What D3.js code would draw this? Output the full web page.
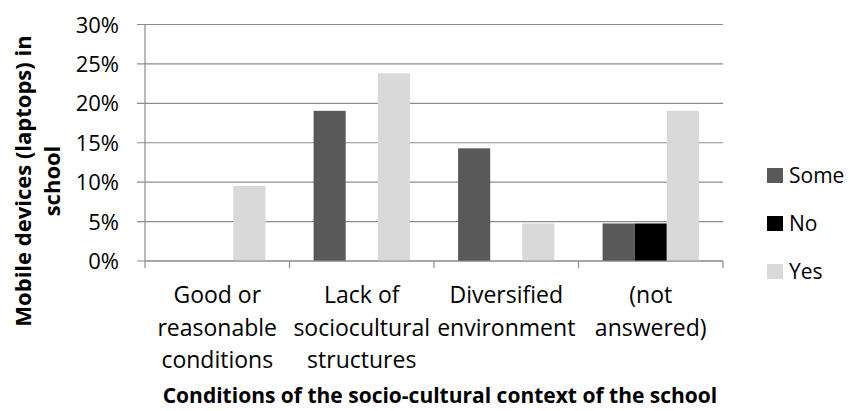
<!DOCTYPE html>
<html>
<head>
<meta charset="utf-8">
<script src="https://cdn.jsdelivr.net/npm/d3@7"></script>
<style>
  body { margin: 0; background: #fff; }
  svg text { font-family: "Open Sans", sans-serif; fill: #000; }
</style>
</head>
<body>
<svg></svg>
<script>
// Chart data (values in %).
var categories = [
  ["Good or", "reasonable", "conditions"],
  ["Lack of", "sociocultural", "structures"],
  ["Diversified", "environment"],
  ["(not", "answered)"]
];
var seriesNames = ["Some", "No", "Yes"];
var someValues = [0, 19.05, 14.29, 4.76];
var noValues = [0, 0, 0, 4.76];
var yesValues = [9.52, 23.81, 4.76, 19.05];
var yTicks = [0, 5, 10, 15, 20, 25, 30];
var yTitle = ["Mobile devices (laptops) in", "school"];
var xTitle = "Conditions of the socio-cultural context of the school";

var colors = ["#595959", "#000000", "#d9d9d9"];
var seriesValues = [someValues, noValues, yesValues];

var svg = d3.select("svg")
  .attr("width", 852)
  .attr("height", 411);

// plot area edges
var plotLeft = 145, plotRight = 723, plotTop = 24.5, plotBottom = 261;
var gridColor = "#8c8c8c";

// Scales.
var x0 = d3.scaleBand()
  .domain(d3.range(categories.length))
  .range([plotLeft, plotRight])
  .paddingInner(1 / 3)
  .paddingOuter(1 / 6);
var x1 = d3.scaleBand()
  .domain(seriesNames)
  .range([0, x0.bandwidth()]);
var y = d3.scaleLinear()
  .domain([0, 30])
  .range([plotBottom, plotTop]);
var edge = d3.scaleLinear()
  .domain([0, categories.length])
  .range([plotLeft, plotRight]);

// Gridlines and y axis labels.
svg.append("g").selectAll("line")
  .data(yTicks)
  .enter()
  .append("line")
  .attr("x1", plotLeft - 8)
  .attr("x2", plotRight)
  .attr("y1", function (d) { return y(d); })
  .attr("y2", function (d) { return y(d); })
  .style("stroke", gridColor)
  .style("stroke-width", 1.2);

svg.append("g").selectAll("text")
  .data(yTicks)
  .enter()
  .append("text")
  .attr("x", 119)
  .attr("y", function (d) { return y(d) + 8; })
  .attr("text-anchor", "end")
  .style("font-size", "22px")
  .text(function (d) { return d + "%"; });

// Bars.
var rows = categories.map(function (c, i) {
  return seriesNames.map(function (s, j) {
    return { cat: i, name: s, value: seriesValues[j][i], color: colors[j] };
  });
});

svg.append("g").selectAll("g")
  .data(rows)
  .enter()
  .append("g")
  .attr("transform", function (d, i) { return "translate(" + x0(i) + ",0)"; })
  .selectAll("rect")
  .data(function (d) { return d.filter(function (b) { return b.value > 0; }); })
  .enter()
  .append("rect")
  .attr("x", function (d) { return x1(d.name); })
  .attr("width", x1.bandwidth())
  .attr("y", function (d) { return y(d.value); })
  .attr("height", function (d) { return y(0) - y(d.value); })
  .attr("fill", function (d) { return d.color; });

// Axis lines.
svg.append("line")
  .attr("x1", plotLeft).attr("x2", plotLeft)
  .attr("y1", plotTop).attr("y2", plotBottom)
  .style("stroke", gridColor).style("stroke-width", 1.2);
svg.append("line")
  .attr("x1", plotLeft).attr("x2", plotRight)
  .attr("y1", plotBottom).attr("y2", plotBottom)
  .style("stroke", gridColor).style("stroke-width", 1.2);
svg.append("g").selectAll("line")
  .data(d3.range(categories.length + 1))
  .enter()
  .append("line")
  .attr("x1", function (d) { return edge(d); })
  .attr("x2", function (d) { return edge(d); })
  .attr("y1", plotBottom)
  .attr("y2", plotBottom + 7)
  .style("stroke", gridColor).style("stroke-width", 1.2);

// Category labels, centred under each group.
var catText = svg.append("g").selectAll("text")
  .data(categories)
  .enter()
  .append("text")
  .attr("text-anchor", "middle")
  .style("font-size", "23px");
catText.selectAll("tspan")
  .data(function (d, i) { return d.map(function (t) { return { t: t, i: i }; }); })
  .enter()
  .append("tspan")
  .attr("x", function (d) { return x0(d.i) + x0.bandwidth() / 2; })
  .attr("y", function (d, k) { return 303 + k * 32.5; })
  .text(function (d) { return d.t; });

// Axis titles.
svg.append("text")
  .attr("x", 440)
  .attr("y", 403)
  .attr("text-anchor", "middle")
  .style("font-size", "21px")
  .style("font-weight", "bold")
  .text(xTitle);

svg.append("g")
  .attr("transform", "translate(0,181) rotate(-90)")
  .selectAll("text")
  .data(yTitle)
  .enter()
  .append("text")
  .attr("x", 0)
  .attr("y", function (d, i) { return 31 + i * 29; })
  .attr("text-anchor", "middle")
  .style("font-size", "22px")
  .style("font-weight", "bold")
  .text(function (d) { return d; });

// Legend.
var legend = svg.append("g").selectAll("g")
  .data(seriesNames)
  .enter()
  .append("g")
  .attr("transform", function (d, i) { return "translate(767," + (168 + i * 48) + ")"; });
legend.append("rect")
  .attr("width", 16)
  .attr("height", 15)
  .attr("fill", function (d, i) { return colors[i]; });
legend.append("text")
  .attr("x", 22)
  .attr("y", 15)
  .style("font-size", "21px")
  .text(function (d) { return d; });
</script>
</body>
</html>
